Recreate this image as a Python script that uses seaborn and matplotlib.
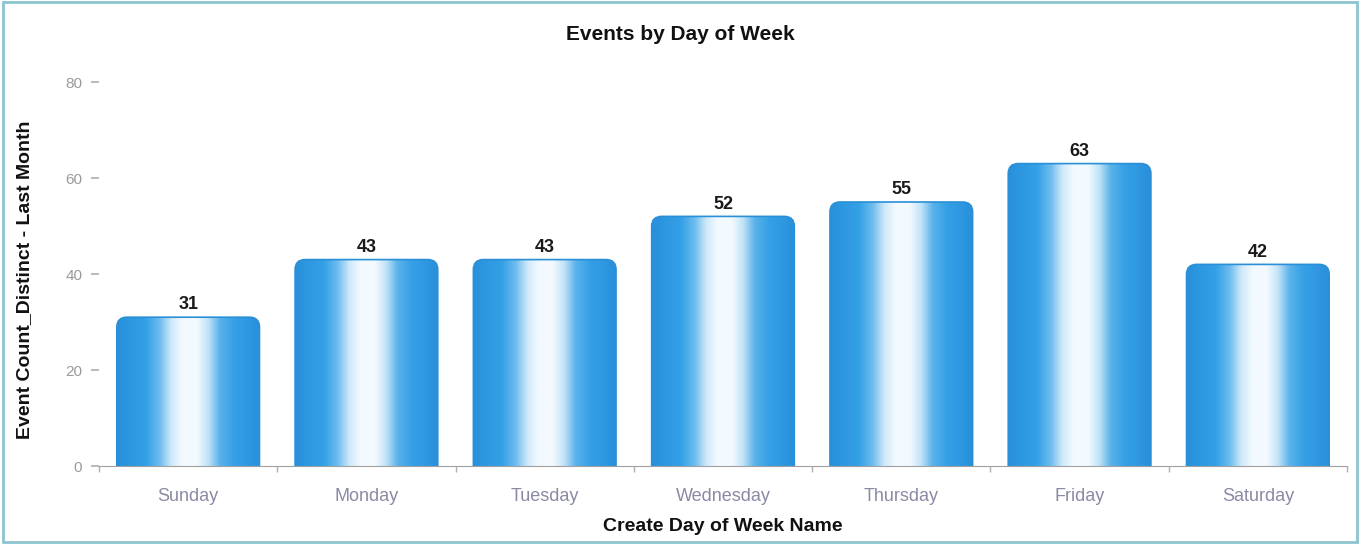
import numpy as np
import pandas as pd
import matplotlib
matplotlib.use("Agg")
import matplotlib.pyplot as plt
import seaborn as sns
from matplotlib.patches import FancyBboxPatch, Rectangle
from matplotlib.colors import LinearSegmentedColormap

days = ["Sunday", "Monday", "Tuesday", "Wednesday", "Thursday", "Friday", "Saturday"]
counts = [31, 43, 43, 52, 55, 63, 42]
yticks = [0, 20, 40, 60, 80]

title = "Events by Day of Week"
xlabel = "Create Day of Week Name"
ylabel = "Event Count_Distinct - Last Month"

sns.set_theme(style="white")
plt.rcParams['font.family'] = ['Liberation Sans', 'DejaVu Sans']

df = pd.DataFrame({"day": days, "count": counts})

fig = plt.figure(figsize=(13.61, 5.44), dpi=100)
ax = fig.add_axes([99/1361, 1 - 466/544, (1347 - 99)/1361, (466 - 70)/544])

sns.barplot(data=df, x="day", y="count", order=days, color="#2f98dd", width=0.8, ax=ax, zorder=2)

ax.set_xlim(-0.5, 6.5)
ylim_top = 80 * (466 - 70) / (466 - 82)
ax.set_ylim(0, ylim_top)

# gradient overlay on each bar
cmap = LinearSegmentedColormap.from_list("bar", [
    (0.0, "#2990dc"), (0.2, "#33a0e6"), (0.3, "#6fbdee"), (0.38, "#cfe9fa"),
    (0.46, "#f3faff"), (0.56, "#f3faff"), (0.64, "#bfe2f7"), (0.72, "#5ab2ea"),
    (0.82, "#35a0e6"), (1.0, "#2990dc")])
grad = np.linspace(0, 1, 256).reshape(1, -1)
xpp = 7 / (1347 - 99)
ypp = ylim_top / (466 - 70)
rad_x = 10 * xpp
aspect = ypp / xpp
for p in list(ax.patches):
    x0, w, h = p.get_x(), p.get_width(), p.get_height()
    p.set_visible(False)
    clip = FancyBboxPatch((x0, -5), w, h + 5,
                          boxstyle=f"round,pad=0,rounding_size={rad_x}",
                          mutation_aspect=aspect, transform=ax.transData,
                          facecolor="none", edgecolor="none")
    ax.add_patch(clip)
    im = ax.imshow(grad, cmap=cmap, aspect="auto", extent=(x0, x0 + w, 0, h),
                   zorder=2, interpolation="bilinear")
    im.set_clip_path(clip)
    edge = FancyBboxPatch((x0, -5), w, h + 5,
                          boxstyle=f"round,pad=0,rounding_size={rad_x}",
                          mutation_aspect=aspect, transform=ax.transData,
                          facecolor="none", edgecolor="#2a8fd6", lw=1.2, zorder=3)
    ax.add_patch(edge)
    edge.set_clip_path(Rectangle((0, 0), 1, 1, transform=ax.transAxes))
    ax.text(x0 + w / 2, h + 0.8, f"{int(round(h))}", ha="center", va="bottom",
            fontsize=13, fontweight="bold", color="#1a1a1a", zorder=4)

ax.set_xlim(-0.5, 6.5)
ax.set_ylim(0, ylim_top)

ax.set_yticks(yticks)
ax.set_yticklabels([str(t) for t in yticks])
for s in ["top", "right", "left"]:
    ax.spines[s].set_visible(False)
ax.spines["bottom"].set_color("#a0a0a0")
ax.spines["bottom"].set_linewidth(0.8)
ax.tick_params(axis="y", left=True, length=6, color="#b0b0b0", labelcolor="#9a9a9a",
               labelsize=11, pad=6)
ax.tick_params(axis="x", bottom=False, labelcolor="#8a8aa4", labelsize=13, pad=10)
ax.set_xticks(np.arange(-0.5, 7, 1), minor=True)
ax.tick_params(axis="x", which="minor", bottom=True, length=4, color="#b0b0b0")

ax.set_xlabel(xlabel, fontsize=14, fontweight="bold", color="#111111", labelpad=9)
ax.set_ylabel(ylabel, fontsize=14, fontweight="bold", color="#111111")
ax.yaxis.set_label_coords(-66/1248, 0.47)

fig.text(680/1361, 1 - 35/544, title, ha="center", va="center", fontsize=15,
         fontweight="bold", color="#111111")

fig.patches.append(Rectangle((0.002, 0.003), 0.995, 0.993, transform=fig.transFigure,
                             fill=False, edgecolor="#8cc4d0", lw=2.0))

fig.savefig("out.png", dpi=100)
